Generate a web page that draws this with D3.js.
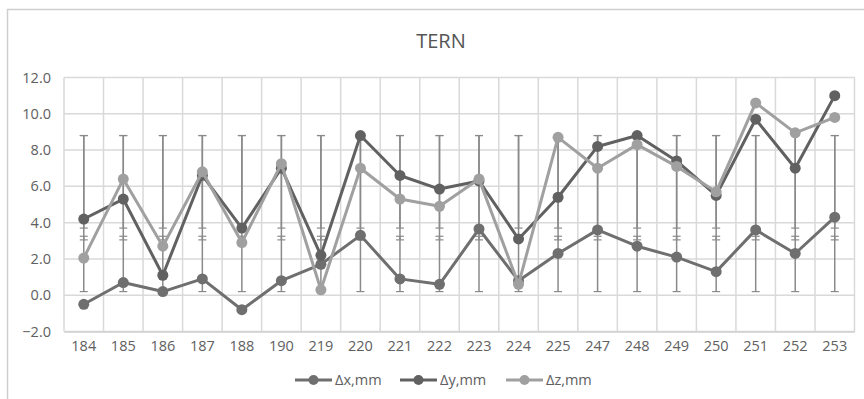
<!DOCTYPE html>
<html>
<head>
<meta charset="utf-8">
<script src="https://cdn.jsdelivr.net/npm/d3@7"></script>
<style>
  html, body { margin: 0; padding: 0; background: #fff; }
  svg { display: block; }
  text { font-family: "Open Sans", "Liberation Sans", sans-serif; }
</style>
</head>
<body>
<svg id="chart" width="864" height="399"></svg>
<script>
// Point numbers along the category axis
const categories = ["184","185","186","187","188","190","219","220","221","222",
                    "223","224","225","247","248","249","250","251","252","253"];

// Displacements per point, mm
const dx = [-0.5, 0.7, 0.2, 0.9, -0.8, 0.8, 1.7, 3.3, 0.9, 0.6,
            3.65, 0.8, 2.3, 3.6, 2.7, 2.1, 1.3, 3.6, 2.3, 4.3];
const dy = [4.2, 5.3, 1.1, 6.6, 3.7, 7.0, 2.2, 8.8, 6.6, 5.85,
            6.3, 3.1, 5.4, 8.2, 8.8, 7.4, 5.5, 9.7, 7.0, 11.0];
const dz = [2.05, 6.4, 2.7, 6.8, 2.9, 7.25, 0.3, 7.0, 5.3, 4.9,
            6.4, 0.6, 8.7, 7.0, 8.3, 7.1, 5.7, 10.6, 8.95, 9.8];

// Standard-deviation band of each series (low, high), drawn at every category
const errX = [0.2, 3.25];
const errY = [3.7, 8.8];
const errZ = [3.05, 8.8];

const seriesNames = ["\u0394x,mm", "\u0394y,mm", "\u0394z,mm"];
const yTicks = [-2, 0, 2, 4, 6, 8, 10, 12];

const series = [
  { name: seriesNames[0], values: dx, err: errX, color: "#6f6f6f" },
  { name: seriesNames[1], values: dy, err: errY, color: "#616161" },
  { name: seriesNames[2], values: dz, err: errZ, color: "#a0a0a0" }
];

const svg = d3.select("#chart");
const plot = { left: 64, right: 854.5, top: 77.5, bottom: 331.5 };

// outer chart frame (runs past the right and bottom edges)
svg.append("rect")
  .attr("x", 7.5).attr("y", 9.5)
  .attr("width", 900).attr("height", 450)
  .attr("fill", "#fff").attr("stroke", "#cfcfcf").attr("stroke-width", 1.5);

const x = d3.scaleBand().domain(categories).range([plot.left, plot.right]);
const y = d3.scaleLinear().domain([-2, 12]).range([plot.bottom, plot.top]);

const grid = svg.append("g");
// horizontal gridlines
grid.selectAll("line.h").data(yTicks).join("line")
  .attr("x1", plot.left).attr("x2", plot.right)
  .attr("y1", d => y(d)).attr("y2", d => y(d))
  .attr("stroke", "#d9d9d9").attr("stroke-width", 1.5);
// vertical gridlines between categories
const bounds = categories.map(c => x(c)).concat([x.range()[1]]);
grid.selectAll("line.v").data(bounds).join("line")
  .attr("x1", d => d).attr("x2", d => d)
  .attr("y1", plot.top).attr("y2", plot.bottom)
  .attr("stroke", "#d9d9d9").attr("stroke-width", 1.5);

// y axis labels
const yAxis = d3.axisLeft(y).tickValues(yTicks).tickFormat(d3.format(".1f")).tickSize(0).tickPadding(13);
const gy = svg.append("g").attr("transform", `translate(${plot.left},0)`).call(yAxis);
gy.select(".domain").remove();
gy.selectAll("text").attr("fill", "#606060").style("font-size", "14.5px");

// x axis labels
const xAxis = d3.axisBottom(x).tickSize(0).tickPadding(9);
const gx = svg.append("g").attr("transform", `translate(0,${plot.bottom})`).call(xAxis);
gx.select(".domain").attr("stroke", "#d0d0d0").attr("stroke-width", 1.5);
gx.selectAll("text").attr("fill", "#606060").style("font-size", "14.5px");

const cx = c => x(c) + x.bandwidth() / 2;

// error bars
const eb = svg.append("g").attr("stroke", "#8a8a8a");
series.forEach(s => {
  categories.forEach(c => {
    const px = cx(c);
    eb.append("line").attr("x1", px).attr("x2", px)
      .attr("y1", y(s.err[0])).attr("y2", y(s.err[1])).attr("stroke-width", 1.5);
    s.err.forEach(v => {
      eb.append("line").attr("x1", px - 4).attr("x2", px + 4)
        .attr("y1", y(v)).attr("y2", y(v)).attr("stroke-width", 1.2);
    });
  });
});

// series lines and markers
const line = d3.line().x((d, i) => cx(categories[i])).y(d => y(d));
series.forEach(s => {
  const g = svg.append("g");
  g.append("path").datum(s.values)
    .attr("d", line).attr("fill", "none")
    .attr("stroke", s.color).attr("stroke-width", 3).attr("stroke-linejoin", "round");
  g.selectAll("circle").data(s.values).join("circle")
    .attr("cx", (d, i) => cx(categories[i])).attr("cy", d => y(d))
    .attr("r", 5.5).attr("fill", s.color);
});

// title
svg.append("text").attr("x", 441).attr("y", 48)
  .attr("text-anchor", "middle").attr("fill", "#555")
  .style("font-size", "20px").text("TERN");

// legend
const legendX = [295, 400, 506];
const lg = svg.append("g");
series.forEach((s, i) => {
  const g = lg.append("g").attr("transform", `translate(${legendX[i]},380)`);
  g.append("line").attr("x1", 0).attr("x2", 37).attr("y1", 0).attr("y2", 0)
    .attr("stroke", s.color).attr("stroke-width", 3);
  g.append("circle").attr("cx", 18.5).attr("cy", 0).attr("r", 5).attr("fill", s.color);
  g.append("text").attr("x", 40).attr("y", 5).attr("fill", "#606060")
    .style("font-size", "14.5px").text(s.name);
});
</script>
</body>
</html>
